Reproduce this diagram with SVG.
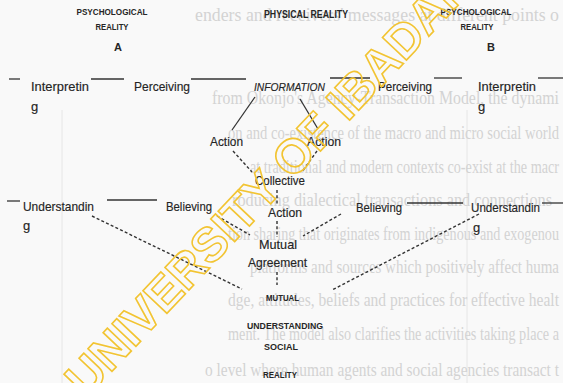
<svg xmlns="http://www.w3.org/2000/svg" width="563" height="383" viewBox="0 0 563 383">
<style>
.bg{font-family:"Liberation Serif",serif;font-size:18.5px;fill:#d3d3d3}
.t{font-family:"Liberation Sans",Arial,sans-serif;font-size:13px;fill:#242424;stroke:#242424;stroke-width:0.15}
.h{font-family:"Liberation Sans",Arial,sans-serif;font-size:9px;font-weight:bold;fill:#262626}
.s{font-family:"Liberation Sans",Arial,sans-serif;font-size:8.5px;font-weight:bold;fill:#262626}
.it{font-style:italic;font-size:10.5px}
.ln{stroke:#333;stroke-width:1.3;fill:none}
.dl{stroke:#333;stroke-width:1.4;fill:none;stroke-dasharray:3 2.2}
.wm{font-family:"Liberation Sans",Arial,sans-serif;font-size:48px;font-weight:bold;fill:none;stroke:#f2c432;stroke-width:1.6}
</style>
<rect width="563" height="383" fill="#f9f9f9"/>
<g id="page-bleed">
<line x1="62" y1="110" x2="62" y2="383" stroke="#e6e6e6" stroke-width="1"/>
<line x1="467" y1="110" x2="467" y2="383" stroke="#e6e6e6" stroke-width="1"/>
<text class="bg" x="195" y="21" textLength="364" lengthAdjust="spacingAndGlyphs">enders and receivers' messages at different points o</text>
<text class="bg" x="212" y="104" textLength="347" lengthAdjust="spacingAndGlyphs">from Okonjo's Agency-Transaction Model, the dynami</text>
<text class="bg" x="228" y="139" textLength="331" lengthAdjust="spacingAndGlyphs">on and co-existence of the macro and micro social world</text>
<text class="bg" x="250" y="173" textLength="309" lengthAdjust="spacingAndGlyphs">at traditional and modern contexts co-exist at the macr</text>
<text class="bg" x="232" y="206" textLength="320" lengthAdjust="spacingAndGlyphs">roducing dialectical transactions and connections</text>
<text class="bg" x="228" y="240" textLength="331" lengthAdjust="spacingAndGlyphs">tion sharing that originates from indigenous and exogenou</text>
<text class="bg" x="250" y="273" textLength="309" lengthAdjust="spacingAndGlyphs">platforms and sources which positively affect huma</text>
<text class="bg" x="228" y="306" textLength="331" lengthAdjust="spacingAndGlyphs">dge, attitudes, beliefs and practices for effective healt</text>
<text class="bg" x="228" y="340" textLength="331" lengthAdjust="spacingAndGlyphs">ment. The model also clarifies the activities taking place a</text>
<text class="bg" x="205" y="376" textLength="354" lengthAdjust="spacingAndGlyphs">o level where human agents and social agencies transact t</text>
</g>
<g id="connectors">
<line class="ln" x1="9" y1="79" x2="20" y2="79"/>
<line class="ln" x1="91" y1="79" x2="124" y2="79"/>
<line class="ln" x1="191" y1="79" x2="246" y2="79"/>
<line class="ln" x1="330" y1="78" x2="370" y2="78"/>
<line class="ln" x1="434" y1="78" x2="462" y2="78"/>
<line class="ln" x1="538" y1="78" x2="563" y2="78"/>
<line class="ln" x1="255" y1="97" x2="232" y2="130"/>
<line class="ln" x1="300" y1="99" x2="318" y2="129"/>
<line class="dl" x1="233" y1="151" x2="252" y2="172"/>
<line class="dl" x1="317" y1="151" x2="302" y2="172"/>
<line class="dl" x1="277" y1="190" x2="277" y2="205"/>
<line class="dl" x1="277" y1="221" x2="277" y2="237"/>
<line class="dl" x1="277" y1="272" x2="277" y2="285"/>
<line class="ln" x1="7" y1="201" x2="20" y2="201"/>
<line class="ln" x1="107" y1="200" x2="157" y2="200"/>
<line class="ln" x1="407" y1="203" x2="463" y2="203"/>
<line class="ln" x1="542" y1="203" x2="563" y2="203"/>
<line class="dl" x1="217" y1="216" x2="250" y2="235"/>
<line class="dl" x1="341" y1="214" x2="303" y2="236"/>
<line class="dl" x1="92" y1="216" x2="242" y2="289"/>
<line class="dl" x1="479" y1="214" x2="332" y2="290"/>
</g>
<g id="psych-a">
<text class="h" x="112" y="15" text-anchor="middle" textLength="71" lengthAdjust="spacingAndGlyphs">PSYCHOLOGICAL</text>
<text class="h" x="112" y="30" text-anchor="middle" textLength="33" lengthAdjust="spacingAndGlyphs">REALITY</text>
<text class="h" x="118" y="51" text-anchor="middle" style="font-size:11px">A</text>
</g>
<g id="physical">
<text class="h" x="306" y="18" text-anchor="middle" textLength="84" lengthAdjust="spacingAndGlyphs" style="font-size:10px">PHYSICAL REALITY</text>
</g>
<g id="psych-b">
<text class="h" x="476" y="15" text-anchor="middle" textLength="71" lengthAdjust="spacingAndGlyphs">PSYCHOLOGICAL</text>
<text class="h" x="477" y="30" text-anchor="middle" textLength="33" lengthAdjust="spacingAndGlyphs">REALITY</text>
<text class="h" x="491" y="51" text-anchor="middle" style="font-size:11px">B</text>
</g>
<g id="interpreting-a">
<text class="t" x="31" y="91" textLength="58" lengthAdjust="spacingAndGlyphs">Interpretin</text>
<text class="t" x="31" y="111">g</text>
</g>
<g id="perceiving-a"><text class="t" x="134" y="91" textLength="56" lengthAdjust="spacingAndGlyphs">Perceiving</text></g>
<g id="information"><text class="t it" x="254" y="91" textLength="71" lengthAdjust="spacingAndGlyphs">INFORMATION</text></g>
<g id="perceiving-b"><text class="t" x="378" y="91" textLength="54" lengthAdjust="spacingAndGlyphs">Perceiving</text></g>
<g id="interpreting-b">
<text class="t" x="478" y="91" textLength="58" lengthAdjust="spacingAndGlyphs">Interpretin</text>
<text class="t" x="478" y="111">g</text>
</g>
<g id="action-a"><text class="t" x="210" y="146" textLength="33" lengthAdjust="spacingAndGlyphs">Action</text></g>
<g id="action-b"><text class="t" x="307" y="146" textLength="34" lengthAdjust="spacingAndGlyphs">Action</text></g>
<g id="collective-action">
<text class="t" x="255" y="185" textLength="50" lengthAdjust="spacingAndGlyphs">Collective</text>
<text class="t" x="268" y="217" textLength="34" lengthAdjust="spacingAndGlyphs">Action</text>
</g>
<g id="understanding-a">
<text class="t" x="23" y="211" textLength="71" lengthAdjust="spacingAndGlyphs">Understandin</text>
<text class="t" x="23" y="230">g</text>
</g>
<g id="believing-a"><text class="t" x="166" y="211" textLength="46" lengthAdjust="spacingAndGlyphs">Believing</text></g>
<g id="believing-b"><text class="t" x="356" y="212" textLength="46" lengthAdjust="spacingAndGlyphs">Believing</text></g>
<g id="understanding-b">
<text class="t" x="471" y="212" textLength="69" lengthAdjust="spacingAndGlyphs">Understandin</text>
<text class="t" x="473" y="232">g</text>
</g>
<g id="mutual-agreement">
<text class="t" x="259" y="249" textLength="38" lengthAdjust="spacingAndGlyphs">Mutual</text>
<text class="t" x="248" y="267" textLength="59" lengthAdjust="spacingAndGlyphs">Agreement</text>
</g>
<g id="mutual-understanding">
<text class="s" x="266" y="301" textLength="33" lengthAdjust="spacingAndGlyphs">MUTUAL</text>
<text class="s" x="247" y="329" textLength="76" lengthAdjust="spacingAndGlyphs">UNDERSTANDING</text>
</g>
<g id="social-reality">
<text class="s" x="264" y="350" textLength="34" lengthAdjust="spacingAndGlyphs" style="font-size:9.5px">SOCIAL</text>
<text class="s" x="263" y="378" textLength="34" lengthAdjust="spacingAndGlyphs" style="font-size:9.5px">REALITY</text>
</g>
<g id="watermark">
<text class="wm" transform="translate(86,399) rotate(-46.6)">UNIVERSITY OF IBADAN</text>
</g>
</svg>
